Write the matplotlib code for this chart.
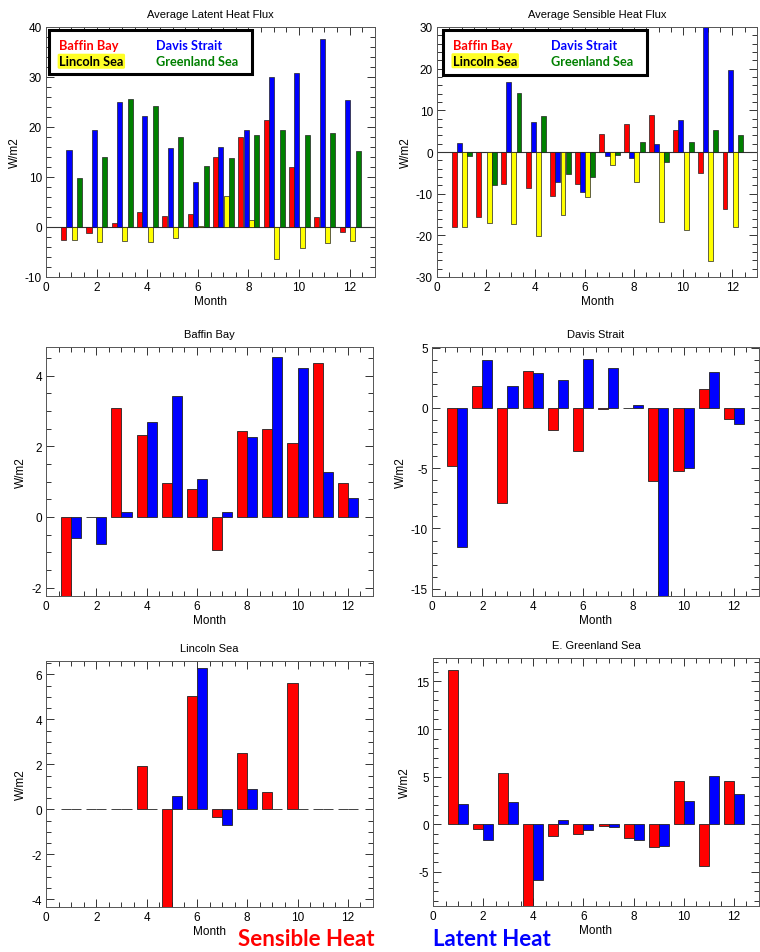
import numpy as np
import matplotlib.pyplot as plt
from matplotlib.patches import Rectangle
from matplotlib.ticker import MultipleLocator

plt.rcParams['font.family'] = ['Liberation Sans', 'DejaVu Sans']
plt.rcParams['axes.unicode_minus'] = False

months = np.arange(1, 13)

# average latent heat flux (W/m2) by region
lat_baffin = [-2.6, -1.2, 0.8, 3.1, 2.3, 2.6, 14.1, 18.0, 21.5, 12.1, 2.1, -1.0]
lat_davis = [15.4, 19.4, 25.0, 22.2, 15.8, 9.0, 16.1, 19.4, 30.1, 30.8, 37.6, 25.5]
lat_lincoln = [-2.5, -2.9, -2.8, -2.9, -2.1, 0.2, 6.2, 1.4, -6.3, -4.1, -3.1, -2.8]
lat_greenland = [9.9, 14.1, 25.6, 24.3, 18.1, 12.2, 13.9, 18.4, 19.4, 18.5, 18.8, 15.3]

# average sensible heat flux (W/m2) by region
sen_baffin = [-18.0, -15.7, -7.6, -8.6, -10.6, -7.7, 4.3, 6.7, 8.9, 5.4, -5.1, -13.6]
sen_davis = [2.1, 0.1, 16.9, 7.3, -7.3, -9.7, -1.0, -1.4, 2.0, 7.6, 31.0, 19.7]
sen_lincoln = [-17.9, -17.1, -17.3, -20.1, -15.0, -10.8, -3.2, -7.3, -16.9, -18.8, -26.1, -18.0]
sen_greenland = [-1.0, -7.8, 14.1, 8.7, -5.3, -6.1, -0.8, 2.3, -2.4, 2.3, 5.4, 4.2]

# trend panels: sensible (red) and latent (blue)
bb_sens = [-2.5, 0.0, 3.08, 2.33, 0.95, 0.8, -0.94, 2.42, 2.48, 2.08, 4.36, 0.95]
bb_lat = [-0.61, -0.76, 0.13, 2.7, 3.42, 1.06, 0.15, 2.25, 4.53, 4.21, 1.26, 0.53]
ds_sens = [-4.8, 1.83, -7.9, 3.03, -1.83, -3.6, -0.1, 0.03, -6.1, -5.2, 1.6, -0.94]
ds_lat = [-11.5, 3.94, 1.83, 2.92, 2.33, 4.08, 3.3, 0.25, -16.5, -5.0, 2.97, -1.36]
ls_sens = [0.0, 0.0, 0.0, 1.95, -4.6, 5.05, -0.33, 2.52, 0.77, 5.62, 0.0, 0.0]
ls_lat = [0.0, 0.0, 0.0, 0.04, 0.58, 6.27, -0.7, 0.92, 0.0, 0.0, 0.0, 0.0]
gs_sens = [16.19, -0.49, 5.35, -9.0, -1.26, -1.05, -0.17, -1.4, -2.41, 4.55, -4.41, 4.51]
gs_lat = [2.1, -1.61, 2.34, -5.8, 0.45, -0.56, -0.31, -1.61, -2.27, 2.48, 5.1, 3.22]

RED = '#ff0000'
BLUE = '#0000ff'
YELLOW = '#ffff00'
GREEN = '#008000'

W, H = 760, 953
fig = plt.figure(figsize=(W / 100, H / 100), dpi=100)


def add_ax(x0, y0, x1, y1):
    return fig.add_axes([x0 / W, 1 - y1 / H, (x1 - x0) / W, (y1 - y0) / H])


def style(ax, title, ylim, ymaj, ymin):
    ax.set_xlim(0, 13)
    ax.set_ylim(*ylim)
    ax.xaxis.set_major_locator(MultipleLocator(2))
    ax.xaxis.set_minor_locator(MultipleLocator(0.5))
    ax.yaxis.set_major_locator(MultipleLocator(ymaj))
    ax.yaxis.set_minor_locator(MultipleLocator(ymin))
    ax.tick_params(which='both', direction='in', top=True, right=True,
                   labelsize=8.5, color='#333333', width=0.7)
    ax.tick_params(which='major', length=6, pad=3)
    ax.tick_params(which='minor', length=3.5)
    for s in ax.spines.values():
        s.set_linewidth(0.7)
        s.set_color('#555555')
    ax.set_title(title, fontsize=8, pad=7)
    ax.set_xlabel('Month', fontsize=8.5, labelpad=1)
    ax.set_ylabel('W/m2', fontsize=8.5, labelpad=3)


def legend_box(ax, box, xs, ys):
    ax.add_patch(Rectangle((box[0], box[1]), box[2] - box[0], box[3] - box[1],
                           transform=ax.transAxes, fill=True, facecolor='white',
                           edgecolor='black', lw=2.2, zorder=5))
    kw = dict(transform=ax.transAxes, fontsize=9.2, fontweight='bold',
              family=['Lato', 'DejaVu Sans'], va='center', ha='left', zorder=6)
    ax.text(xs[0], ys[0], 'Baffin Bay', color=RED, **kw)
    ax.text(xs[1], ys[0], 'Davis Strait', color=BLUE, **kw)
    ax.text(xs[0], ys[1], 'Lincoln Sea', color='black',
            bbox=dict(boxstyle='round,pad=0.12', fc=YELLOW, ec='none', alpha=0.85), **kw)
    ax.text(xs[1], ys[1], 'Greenland Sea', color=GREEN, **kw)


def four_bars(ax, series):
    cols = [RED, BLUE, YELLOW, GREEN]
    offs = [-0.3, -0.09, 0.12, 0.33]
    ax.axhline(0, color='#333333', lw=0.8, zorder=1)
    for vals, c, o in zip(series, cols, offs):
        ax.bar(months + o, vals, width=0.2, color=c, edgecolor='#222222',
               linewidth=0.5, zorder=2)


def two_bars(ax, sens, lat):
    ax.bar(months - 0.4, sens, width=0.4, align='edge', color=RED,
           edgecolor='#222222', linewidth=0.6, zorder=2)
    ax.bar(months, lat, width=0.4, align='edge', color=BLUE,
           edgecolor='#222222', linewidth=0.6, zorder=2)


# top row
ax1 = add_ax(46, 28, 375, 278)
four_bars(ax1, [lat_baffin, lat_davis, lat_lincoln, lat_greenland])
style(ax1, 'Average Latent Heat Flux', (-10, 40), 10, 2)
legend_box(ax1, (0.009, 0.812, 0.626, 0.988), (0.04, 0.334), (0.929, 0.863))

ax2 = add_ax(437, 28, 757, 278)
four_bars(ax2, [sen_baffin, sen_davis, sen_lincoln, sen_greenland])
style(ax2, 'Average Sensible Heat Flux', (-30, 30), 10, 2)
legend_box(ax2, (0.019, 0.808, 0.656, 0.988), (0.05, 0.356), (0.929, 0.865))

# middle row
ax3 = add_ax(46, 348, 373, 597)
two_bars(ax3, bb_sens, bb_lat)
style(ax3, 'Baffin Bay', (-2.24, 4.81), 2, 0.5)

ax4 = add_ax(432, 348, 759, 597)
two_bars(ax4, ds_sens, ds_lat)
style(ax4, 'Davis Strait', (-15.6, 5.05), 5, 1)

# bottom row
ax5 = add_ax(46, 662, 373, 908)
two_bars(ax5, ls_sens, ls_lat)
style(ax5, 'Lincoln Sea', (-4.34, 6.6), 2, 0.5)

ax6 = add_ax(433, 659, 759, 907)
two_bars(ax6, gs_sens, gs_lat)
style(ax6, 'E. Greenland Sea', (-8.57, 17.45), 5, 1)

fig.text(238 / W, 1 - 940 / H, 'Sensible Heat', color=RED, fontsize=16,
         fontweight='bold', family=['Lato', 'DejaVu Sans'], va='center', ha='left')
fig.text(433 / W, 1 - 940 / H, 'Latent Heat', color=BLUE, fontsize=16,
         fontweight='bold', family=['Lato', 'DejaVu Sans'], va='center', ha='left')

fig.savefig('out.png', dpi=100)
